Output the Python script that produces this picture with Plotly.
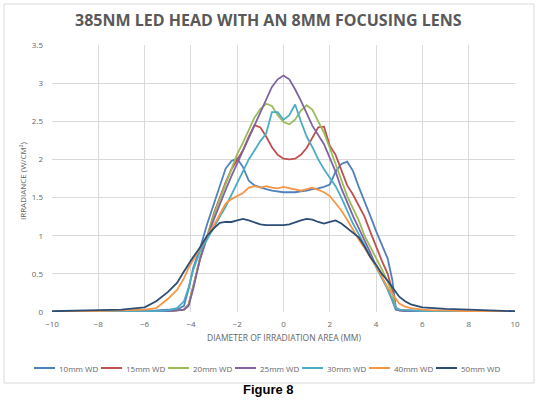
"""
Irradiance profiles of a 385nm LED head with an 8mm focusing lens
"""
import plotly.graph_objects as go

# diameter positions (mm)
diameter = [-10, -8, -7, -6,
            -5.5, -5, -4.6, -4.3, -4.1, -3.9, -3.6, -3.3, -3.0,
            -2.75, -2.5, -2.25, -2.0, -1.75, -1.5, -1.25, -1.0, -0.75, -0.5, -0.25,
            0, 0.25, 0.5, 0.75, 1.0, 1.25, 1.5, 1.75, 2.0,
            2.25, 2.5, 2.75, 3.0, 3.25, 3.5, 3.75, 4.0, 4.25, 4.5,
            4.7, 4.85, 5.0, 5.25, 5.5,
            6.0, 6.5, 7.0, 8.0, 9.0, 10]

# irradiance (W/cm2) per working distance
wd_10mm = [0.0, 0.01, 0.01, 0.02,
           0.02, 0.03, 0.03, 0.08, 0.3, 0.58, 0.84, 1.15, 1.43,
           1.65, 1.88, 1.98, 2.01, 1.9, 1.72, 1.66, 1.64, 1.61, 1.59, 1.58,
           1.57, 1.57, 1.57, 1.58, 1.59, 1.61, 1.62, 1.64, 1.67,
           1.84, 1.94, 1.97, 1.85, 1.64, 1.46, 1.26, 1.06, 0.88, 0.7,
           0.42, 0.06, 0.03, 0.02, 0.02,
           0.01, 0.01, 0.01, 0.0, 0.0, 0.0]
wd_15mm = [0.0, 0.01, 0.01, 0.01,
           0.01, 0.01, 0.02, 0.03, 0.1, 0.33, 0.7, 0.98, 1.3,
           1.5, 1.7, 1.87, 2.0, 2.12, 2.3, 2.45, 2.42, 2.3, 2.16, 2.06,
           2.01, 2.0, 2.01, 2.06, 2.15, 2.28, 2.42, 2.43, 2.18,
           2.06, 1.86, 1.66, 1.54, 1.4, 1.25, 1.05, 0.85, 0.67, 0.5,
           0.28, 0.05, 0.02, 0.02, 0.01,
           0.01, 0.01, 0.01, 0.0, 0.0, 0.0]
wd_20mm = [0.0, 0.01, 0.01, 0.01,
           0.01, 0.01, 0.02, 0.03, 0.1, 0.33, 0.72, 1.0, 1.28,
           1.48, 1.68, 1.88, 2.07, 2.22, 2.38, 2.55, 2.66, 2.73, 2.7, 2.58,
           2.49, 2.46, 2.52, 2.64, 2.71, 2.65, 2.5, 2.35, 2.15,
           1.95, 1.73, 1.52, 1.37, 1.2, 1.0, 0.86, 0.72, 0.56, 0.4,
           0.24, 0.05, 0.02, 0.02, 0.01,
           0.01, 0.01, 0.01, 0.0, 0.0, 0.0]
wd_25mm = [0.0, 0.01, 0.01, 0.01,
           0.01, 0.01, 0.02, 0.03, 0.08, 0.3, 0.7, 0.98, 1.22,
           1.42, 1.6, 1.78, 1.95, 2.12, 2.28, 2.45, 2.62, 2.8, 2.95, 3.05,
           3.1, 3.05, 2.92, 2.77, 2.6, 2.44, 2.32, 2.2, 2.02,
           1.84, 1.62, 1.43, 1.26, 1.1, 0.95, 0.78, 0.6, 0.45, 0.3,
           0.15, 0.03, 0.02, 0.01, 0.01,
           0.01, 0.0, 0.0, 0.0, 0.0, 0.0]
wd_30mm = [0.0, 0.01, 0.01, 0.01,
           0.01, 0.02, 0.05, 0.14, 0.32, 0.55, 0.8, 0.95, 1.12,
           1.25, 1.38, 1.54, 1.7, 1.85, 2.0, 2.12, 2.24, 2.34, 2.62, 2.62,
           2.52, 2.58, 2.72, 2.5, 2.3, 2.16, 2.0, 1.87, 1.76,
           1.65, 1.5, 1.33, 1.16, 1.02, 0.88, 0.74, 0.6, 0.45, 0.3,
           0.16, 0.05, 0.03, 0.02, 0.02,
           0.01, 0.01, 0.01, 0.0, 0.0, 0.0]
wd_40mm = [0.0, 0.01, 0.02, 0.03,
           0.05, 0.17, 0.29, 0.44, 0.58, 0.68, 0.85, 1.0, 1.14,
           1.28, 1.42, 1.48, 1.52, 1.56, 1.63, 1.65, 1.63, 1.65, 1.63, 1.62,
           1.64, 1.62, 1.6, 1.59, 1.61, 1.63, 1.6, 1.57, 1.52,
           1.43, 1.33, 1.21, 1.07, 0.95, 0.84, 0.72, 0.6, 0.46, 0.32,
           0.24, 0.17, 0.11, 0.07, 0.05,
           0.03, 0.02, 0.02, 0.01, 0.01, 0.0]
wd_50mm = [0.01, 0.02, 0.03, 0.06,
           0.14, 0.26, 0.38, 0.53, 0.63, 0.72, 0.85, 1.0, 1.1,
           1.17, 1.18, 1.18, 1.2, 1.22, 1.2, 1.17, 1.15, 1.14, 1.14, 1.14,
           1.14, 1.15, 1.17, 1.2, 1.22, 1.21, 1.18, 1.16, 1.18,
           1.2, 1.16, 1.1, 1.04, 0.98, 0.86, 0.72, 0.62, 0.5, 0.41,
           0.33, 0.27, 0.2, 0.14, 0.1,
           0.06, 0.05, 0.04, 0.03, 0.02, 0.01]

series_names = ["10mm WD", "15mm WD", "20mm WD", "25mm WD", "30mm WD", "40mm WD", "50mm WD"]
series_values = [wd_10mm, wd_15mm, wd_20mm, wd_25mm, wd_30mm, wd_40mm, wd_50mm]
colors = ["#4F81BD", "#C0504D", "#9BBB59", "#8064A2", "#4BACC6", "#F79646", "#2C4D75"]

W, H = 539, 402
L, R, T, B = 52, 24, 45, 90
PW, PH = W - L - R, H - T - B
GRAY = "#666666"


def px_x(px):
    return (px - L) / PW


def px_y(py):
    return (H - B - py) / PH


fig = go.Figure()
for name, vals, col in zip(series_names, series_values, colors):
    fig.add_trace(go.Scatter(x=diameter, y=vals, name=name, mode="lines",
                             line=dict(color=col, width=1.8), showlegend=False))

annotations = [
    dict(text="<b>385NM LED HEAD WITH AN 8MM FOCUSING LENS</b>", x=px_x(268), y=px_y(20),
         font=dict(family="Open Sans", size=16, color="#595959")),
    dict(text="DIAMETER OF IRRADIATION AREA (MM)", x=px_x(284), y=px_y(337),
         font=dict(family="Open Sans", size=8.5, color=GRAY)),
    dict(text="IRRADIANCE (W/CM²)", x=px_x(22), y=px_y(180), textangle=-90,
         font=dict(family="Open Sans", size=8, color=GRAY)),
    dict(text="<b>Figure 8</b>", x=px_x(268), y=px_y(389),
         font=dict(family="Liberation Sans", size=13, color="black")),
]
shapes = [
    # chart frame
    dict(type="rect", xref="paper", yref="paper", x0=px_x(4), x1=px_x(534),
         y0=px_y(383), y1=px_y(4), line=dict(color="#D9D9D9", width=1)),
]

# hand-placed legend row like the original
for i, (name, col) in enumerate(zip(series_names, colors)):
    x0 = 34 + 67 * i
    shapes.append(dict(type="line", xref="paper", yref="paper",
                       x0=px_x(x0), x1=px_x(x0 + 21), y0=px_y(368), y1=px_y(368),
                       line=dict(color=col, width=2)))
    annotations.append(dict(text=name, x=px_x(x0 + 23), y=px_y(368), xanchor="left",
                            font=dict(family="Open Sans", size=8, color=GRAY)))

for a in annotations:
    a.update(xref="paper", yref="paper", showarrow=False)
    a.setdefault("xanchor", "center")
    a.setdefault("yanchor", "middle")

fig.update_layout(
    width=W, height=H,
    margin=dict(l=L, r=R, t=T, b=B),
    paper_bgcolor="white", plot_bgcolor="white",
    annotations=annotations, shapes=shapes,
    font=dict(family="Open Sans", size=8, color=GRAY),
)
fig.update_xaxes(range=[-10, 10], dtick=2, showgrid=True, gridcolor="#D9D9D9", gridwidth=1,
                 zeroline=False, showline=False, ticks="", ticklabelstandoff=6,
                 tickfont=dict(size=8, color=GRAY))
fig.update_yaxes(range=[0, 3.5], dtick=0.5, showgrid=True, gridcolor="#D9D9D9", gridwidth=1,
                 zeroline=False, showline=False, ticks="", ticklabelstandoff=8,
                 tickfont=dict(size=8, color=GRAY))

# page has a default body margin; drop it so the figure sits at the window corner
fig.write_html("out.html", config={"displayModeBar": False},
               post_script="document.body.style.margin='0';")
